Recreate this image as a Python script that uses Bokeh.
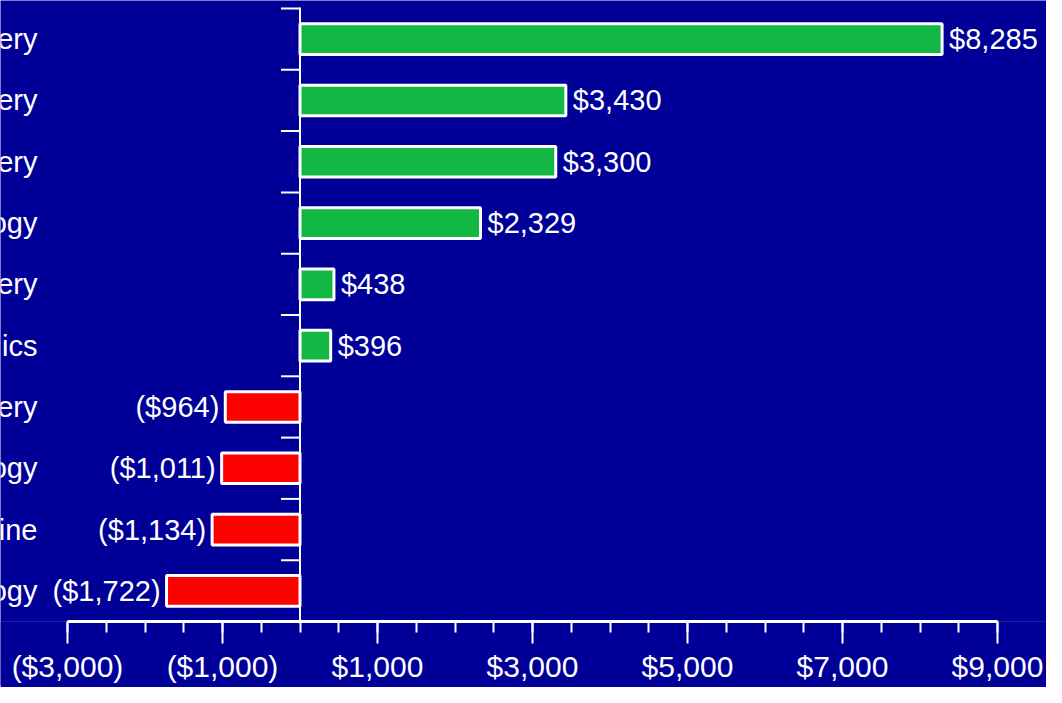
from bokeh.plotting import figure
from bokeh.models import ColumnDataSource, Range1d, FixedTicker, Span
from bokeh.core.properties import value
from bokeh.embed import file_html
from bokeh.resources import INLINE

# ---- data ----
categories = ["ery", "ery", "ery", "ogy", "ery", "ics", "ery", "ogy", "ine", "ogy"]
values = [8285, 3430, 3300, 2329, 438, 396, -964, -1011, -1134, -1722]
x_major_ticks = [-3000, -1000, 1000, 3000, 5000, 7000, 9000]
x_tick_labels = ["($3,000)", "($1,000)", "$1,000", "$3,000", "$5,000", "$7,000", "$9,000"]
x_minor_ticks = [-3000, -2500, -2000, -1500, -1000, -500, 0, 500, 1000, 1500, 2000,
                 2500, 3000, 3500, 4000, 4500, 5000, 5500, 6000, 6500, 7000, 7500,
                 8000, 8500, 9000]

# ---- style ----
BG = "#000099"
GREEN = "#12B843"
RED = "#FF0000"
WHITE = "#FFFFFF"
FONT = "Liberation Sans"
FS = "29px"
TICK_FS = "30px"

W, H = 1046, 687
BOTTOM = 66
FRAME_H = H - BOTTOM
TOP_GAP = 8                      # px between frame top and first category band
PX = 0.0775                      # pixels per data unit (x)
X0 = -3000 - 67 / PX             # -3000 sits 67 px from the left edge
X1 = X0 + W / PX

n = len(categories)
rows = list(range(n))
BAND = (FRAME_H - TOP_GAP) / n
Y_TOP = -0.5 - TOP_GAP / BAND

p = figure(width=W, height=H, output_backend="svg", toolbar_location=None,
           x_range=Range1d(X0, X1), y_range=Range1d(n - 0.5, Y_TOP),
           x_axis_location="below", y_axis_location=None,
           min_border_left=0, min_border_right=0,
           min_border_top=0, min_border_bottom=BOTTOM,
           background_fill_color=BG, border_fill_color=BG,
           outline_line_color=None)
p.grid.visible = False

colors = [GREEN if v >= 0 else RED for v in values]
bars = ColumnDataSource(dict(y=rows, right=values, color=colors))
p.hbar(y="y", left=0, right="right", height=0.5, source=bars,
       fill_color="color", line_color=WHITE, line_width=3)

# value labels
def fmt(v):
    return f"${v:,}" if v >= 0 else f"(${-v:,})"

pos = ColumnDataSource(dict(x=[v for v in values if v >= 0],
                            y=[r for r, v in zip(rows, values) if v >= 0],
                            t=[fmt(v) for v in values if v >= 0]))
neg = ColumnDataSource(dict(x=[v for v in values if v < 0],
                            y=[r for r, v in zip(rows, values) if v < 0],
                            t=[fmt(v) for v in values if v < 0]))
p.text(x="x", y="y", text="t", source=pos, x_offset=7, text_align="left",
       text_baseline="middle", text_color=WHITE, text_font=value(FONT),
       text_font_size=FS)
p.text(x="x", y="y", text="t", source=neg, x_offset=-6, text_align="right",
       text_baseline="middle", text_color=WHITE, text_font=value(FONT),
       text_font_size=FS)

# category labels (cropped on the left as in the reference)
cat_src = ColumnDataSource(dict(x=[X0 + 37 / PX] * n, y=rows, t=categories))
p.text(x="x", y="y", text="t", source=cat_src, text_align="right",
       text_baseline="middle", text_color=WHITE, text_font=value(FONT),
       text_font_size=FS)

# y axis drawn at x = 0, from the first band boundary down to the x axis
bounds = [r - 0.5 for r in rows]
p.segment(x0=-19 / PX, x1=0, y0=bounds, y1=bounds, line_color=WHITE, line_width=2)
p.segment(x0=[0], x1=[0], y0=[-0.5 - 1 / BAND], y1=[n - 0.5], line_color=WHITE,
          line_width=2)

# x axis
xa = p.xaxis[0]
xa.bounds = (-3000, 9000)
xa.ticker = FixedTicker(ticks=x_major_ticks, minor_ticks=x_minor_ticks)
xa.major_label_overrides = dict(zip(x_major_ticks, x_tick_labels))
xa.axis_line_color = WHITE
xa.axis_line_width = 3
xa.major_tick_line_color = WHITE
xa.major_tick_line_width = 2
xa.major_tick_out = 22
xa.major_tick_in = 0
xa.minor_tick_line_color = WHITE
xa.minor_tick_line_width = 2
xa.minor_tick_out = 11
xa.minor_tick_in = 0
xa.major_label_text_color = WHITE
xa.major_label_text_font = FONT
xa.major_label_text_font_size = TICK_FS
xa.major_label_standoff = 6
try:
    xa.background_fill_color = BG
except Exception:
    pass

open("out.html", "w").write(file_html(p, INLINE))
